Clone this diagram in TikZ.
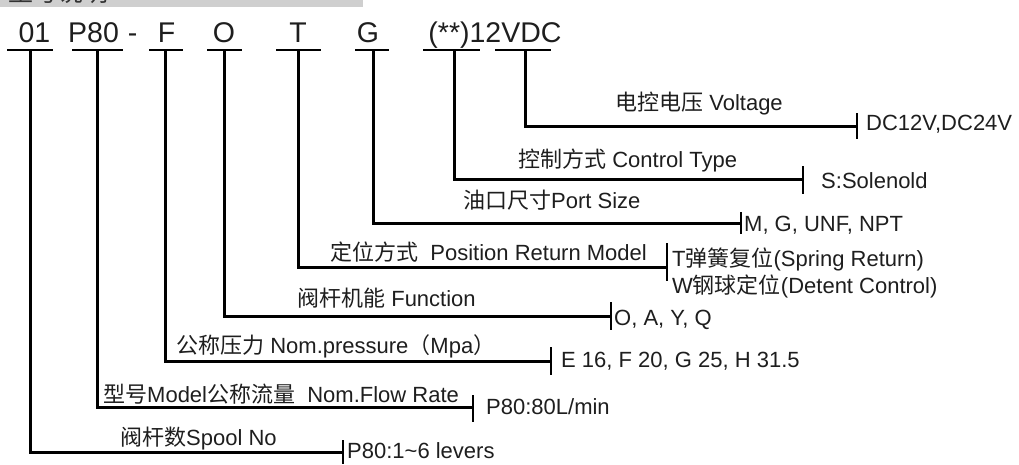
\documentclass[tikz,border=0pt]{standalone}
\usepackage{fontspec}
\setmainfont{Liberation Sans}
\newfontfamily\cjk{Noto Sans CJK SC}
\newcommand\zh[1]{{\cjk #1}}
\definecolor{ink}{HTML}{1E1E1E}
\definecolor{barc}{HTML}{CFCFCF}
\begin{document}
\begin{tikzpicture}[x=1pt,y=-1pt,
  code/.style={font=\fontsize{28.5}{30}\selectfont, anchor=base, inner sep=0, text=ink},
  lab/.style={font=\fontsize{22}{24}\selectfont, anchor=base west, inner sep=0, text=ink},
  val/.style={font=\fontsize{22}{24}\selectfont, anchor=base west, inner sep=0, text=ink},
  ul/.style={line width=2.3pt},
  conn/.style={line width=3pt},
  tickl/.style={line width=1.8pt}]
\useasboundingbox (0,0) rectangle (1019,464);
% header bar (cut off in the reference)
\begin{scope}
\clip (0,0) rectangle (363,7);
\fill[barc] (0,0) rectangle (363,7);
\node[anchor=base west, inner sep=0, text=black!80, font=\cjk\fontsize{25}{28}\selectfont] (hdr) at (8,1) {型号说明};
\end{scope}
% code row
\node[code] (c1) at (34.5,42) {01};
\node[code] (c2) at (93.5,42) {P80};
\node[code] (cd) at (132.5,42) {-};
\node[code] (c3) at (166.5,42) {F};
\node[code] (c4) at (224,42) {O};
\node[code] (c5) at (298,42) {T};
\node[code] (c6) at (368,42) {G};
\node[code] (c7) at (495,42) {(**)12VDC};
% underlines
\draw[ul] (7,50) -- (53,50);
\draw[ul] (72,50) -- (123,50);
\draw[ul] (149,50) -- (183,50);
\draw[ul] (207,50) -- (242,50);
\draw[ul] (276,50) -- (321,50);
\draw[ul] (355,50) -- (389,50);
\draw[ul] (423,50) -- (480,50);
\draw[ul] (495,50) -- (551,50);
% start points
\coordinate (s1) at (30,50);
\coordinate (s2) at (97,50);
\coordinate (s3) at (165,50);
\coordinate (s4) at (224,50);
\coordinate (s5) at (298,50);
\coordinate (s6) at (373,50);
\coordinate (s7) at (454,50);
\coordinate (s8) at (525,50);
% tick points
\coordinate (t1) at (343,452);
\coordinate (t2) at (473,407);
\coordinate (t3) at (551,361);
\coordinate (t4) at (611,316);
\coordinate (t5) at (667,267);
\coordinate (t6) at (741,223);
\coordinate (t7) at (803,179);
\coordinate (t8) at (857,126);
% connectors
\foreach \i in {1,...,8}{\draw[conn] (s\i) |- (t\i);}
% ticks
\draw[tickl] (343,440) -- (343,464);
\draw[tickl] (473,395) -- (473,422);
\draw[tickl] (551,347) -- (551,375);
\draw[tickl] (611,302) -- (611,330);
\draw[tickl] (667,243) -- (667,281);
\draw[tickl] (741,212) -- (741,234);
\draw[tickl] (803,166) -- (803,194);
\draw[tickl] (857,113) -- (857,139);
% labels
\node[lab] (l8) at (615,110) {\zh{电控电压} Voltage};
\node[lab] (l7) at (518,167) {\zh{控制方式} Control Type};
\node[lab] (l6) at (463,208) {\zh{油口尺寸}Port Size};
\node[lab] (l5) at (330,260) {\zh{定位方式}\ \ Position Return Model};
\node[lab] (l4) at (297,306) {\zh{阀杆机能} Function};
\node[lab] (l3) at (176,353) {\zh{公称压力} Nom.pressure\zh{（}Mpa\zh{）}};
\node[lab] (l2) at (103,402) {\zh{型号}Model\zh{公称流量}\ \ Nom.Flow Rate};
\node[lab] (l1) at (120,445) {\zh{阀杆数}Spool No};
% values
\node[val] (v8) at (866,130) {DC12V,DC24V};
\node[val] (v7) at (821,188) {S:Solenold};
\node[val] (v6) at (744,231) {M, G, UNF, NPT};
\node[val] (v5a) at (672,266) {T\zh{弹簧复位}(Spring Return)};
\node[val] (v5b) at (672,293) {W\zh{钢球定位}(Detent Control)};
\node[val] (v4) at (614,325) {O, A, Y, Q};
\node[val] (v3) at (561,367) {E 16, F 20, G 25, H 31.5};
\node[val] (v2) at (486,414) {P80:80L/min};
\node[val] (v1) at (347,458) {P80:1\textasciitilde 6 levers};
\end{tikzpicture}
\end{document}
